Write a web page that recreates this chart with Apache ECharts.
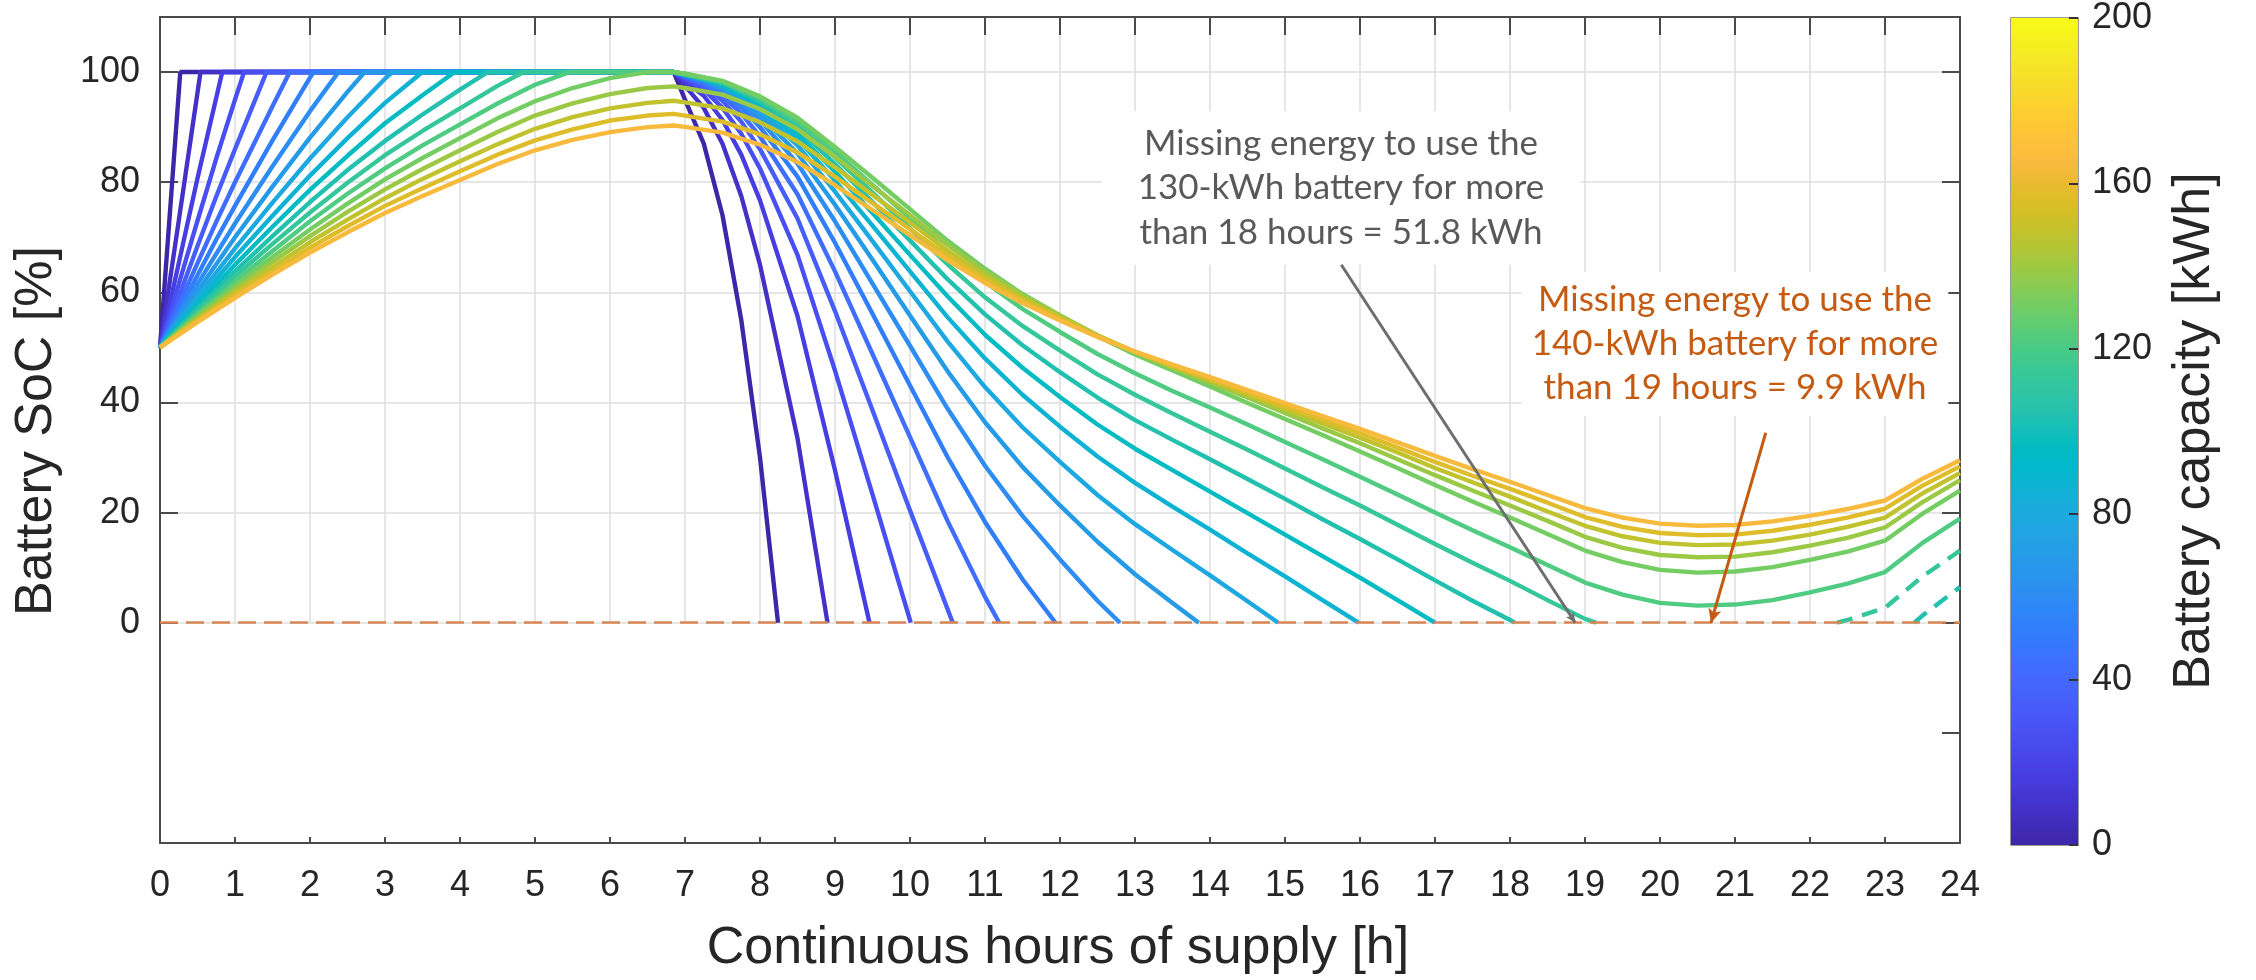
<!DOCTYPE html>
<html>
<head>
<meta charset="utf-8">
<script src="https://cdn.jsdelivr.net/npm/echarts@6/dist/echarts.min.js"></script>
<style>
  html, body { margin: 0; padding: 0; background: #ffffff; }
  #chart { width: 2256px; height: 980px; }
</style>
</head>
<body>
<div id="chart"></div>
<script>
// Battery state of charge [%] over continuous hours of supply, one curve per capacity [kWh]
const capacities = [10, 20, 30, 40, 50, 60, 70, 80, 90, 100, 110, 120, 130, 140, 150, 160, 170, 180, 190, 200];

const soc10 = [[0,50],[0.27,100],[6.85,100],[7,95],[7.25,87],[7.5,74],[7.75,55],[8,30],[8.24,0]];
const soc20 = [[0,50],[0.25,73],[0.54,100],[6.85,100],[7,97.5],[7.25,93.5],[7.5,87],[7.75,77.5],[8,65],[8.5,33.5],[8.9,0]];
const soc30 = [[0,50],[0.25,65.3],[0.5,80.7],[0.83,100],[6.85,100],[7,98.3],[7.25,95.7],[7.5,91.3],[7.75,85],[8,76.7],[8.5,55.7],[9,27.7],[9.46,0]];
const soc40 = [[0,50],[0.25,61.5],[0.5,73],[0.75,84.3],[1,95],[1.12,100],[6.85,100],[7,98.8],[7.25,96.8],[7.5,93.5],[7.75,88.8],[8,82.5],[8.5,66.8],[9,45.8],[9.5,23.3],[10.01,0]];
const soc50 = [[0,50],[0.25,59.2],[0.5,68.4],[0.75,77.4],[1,86],[1.42,100],[6.85,100],[7,99],[7.25,97.4],[7.5,94.8],[7.75,91],[8,86],[8.5,73.4],[9,56.6],[9.5,38.6],[10,20.4],[10.57,0]];
const soc60 = [[0,50],[0.25,57.7],[0.5,65.3],[0.75,72.8],[1,80],[1.5,93.8],[1.73,100],[6.85,100],[7,99.2],[7.25,97.8],[7.5,95.7],[7.75,92.5],[8,88.3],[8.5,77.8],[9,63.8],[9.5,48.8],[10,33.7],[10.5,18.5],[11,4.7],[11.19,0]];
const soc70 = [[0,50],[0.25,56.6],[0.5,63.1],[0.75,69.6],[1,75.7],[1.5,87.6],[2,99],[2.05,100],[6.85,100],[7,99.3],[7.25,98.1],[7.5,96.3],[7.75,93.6],[8,90],[8.5,81],[9,69],[9.5,56.1],[10,43.1],[10.5,30.1],[11,18.3],[11.5,7.9],[11.94,0]];
const soc80 = [[0,50],[0.5,61.5],[1,72.5],[1.5,82.9],[2,92.9],[2.38,100],[6.85,100],[7,99.4],[7.25,98.4],[7.5,96.8],[7.75,94.4],[8,91.3],[8.5,83.4],[9,72.9],[9.5,61.6],[10,50.3],[10.5,38.9],[11,28.5],[11.5,19.4],[12,11.5],[12.5,4],[12.8,0]];
const soc90 = [[0,50],[0.5,60.2],[1,70],[1.5,79.2],[2,88.1],[2.5,96.4],[2.73,100],[6.85,100],[7,99.4],[7.25,98.6],[7.5,97.1],[7.75,95],[8,92.2],[8.5,85.2],[9,75.9],[9.5,65.9],[10,55.8],[10.5,45.7],[11,36.4],[11.5,28.3],[12,21.3],[12.5,14.7],[13,8.8],[13.5,3.6],[13.85,0]];
const soc100 = [[0,50],[0.5,59.2],[1,68],[1.5,76.3],[2,84.3],[2.5,91.8],[3,98.8],[3.1,100],[6.85,100],[7,99.5],[7.25,98.7],[7.5,97.4],[7.75,95.5],[8,93],[8.5,86.7],[9,78.3],[9.5,69.3],[10,60.2],[10.5,51.1],[11,42.8],[11.5,35.5],[12,29.2],[12.5,23.2],[13,17.9],[13.5,13.2],[14,8.6],[14.5,3.9],[14.91,0]];
const soc110 = [[0,50],[0.5,58.4],[1,66.4],[1.5,73.9],[2,81.2],[2.5,88],[3,94.4],[3.5,100],[6.85,100],[7,99.5],[7.25,98.8],[7.5,97.6],[7.75,95.9],[8,93.6],[8.5,87.9],[9,80.3],[9.5,72.1],[10,63.8],[10.5,55.5],[11,48],[11.5,41.4],[12,35.6],[12.5,30.2],[13,25.4],[13.5,21.1],[14,16.9],[14.5,12.6],[15,8.4],[15.5,4.1],[15.98,0]];
const soc120 = [[0,50],[0.5,57.7],[1,65],[1.5,71.9],[2,78.6],[2.5,84.8],[3,90.7],[3.5,95.8],[3.93,100],[6.85,100],[7,99.6],[7.5,97.8],[8,94.2],[8.5,88.9],[9,81.9],[9.5,74.4],[10,66.8],[10.5,59.3],[11,52.3],[11.5,46.3],[12,41],[12.5,36],[13,31.6],[13.5,27.7],[14,23.8],[14.5,19.9],[15,16],[15.5,12.1],[16,8.2],[16.5,4.1],[17,0]];
const soc130 = [[0,50],[0.5,57.1],[1,63.8],[1.5,70.2],[2,76.4],[2.5,82.2],[3,87.5],[3.5,92.3],[4,96.8],[4.37,100],[6.85,100],[7,99.6],[7.5,98],[8,94.6],[8.5,89.8],[9,83.3],[9.5,76.4],[10,69.4],[10.5,62.4],[11,56],[11.5,50.4],[12,45.5],[12.5,40.9],[13,36.8],[13.5,33.2],[14,29.7],[14.5,26.1],[15,22.5],[15.5,18.8],[16,15.2],[16.5,11.5],[17,7.7],[17.5,4],[18,0.5],[18.06,0]];
const soc140 = [[0,50],[0.5,56.6],[1,62.9],[1.5,68.8],[2,74.5],[2.5,79.9],[3,84.9],[3.5,89.3],[4,93.4],[4.5,97.5],[4.85,100],[6.85,100],[7,99.6],[7.5,98.1],[8,95],[8.5,90.5],[9,84.5],[9.5,78.1],[10,71.6],[10.5,65.1],[11,59.1],[11.5,53.9],[12,49.4],[12.5,45.1],[13,41.4],[13.5,38],[14,34.7],[14.5,31.4],[15,28],[15.5,24.6],[16,21.3],[16.5,17.8],[17,14.3],[17.5,10.9],[18,7.6],[18.5,4.1],[19,0.7],[19.15,0]];
const soc150 = [[0,50],[0.5,56.1],[1,62],[1.5,67.5],[2,72.9],[2.5,77.9],[3,82.5],[3.5,86.7],[4,90.5],[4.5,94.3],[5,97.7],[5.46,100],[6.85,100],[7,99.7],[7.5,98.3],[8,95.3],[8.5,91.1],[9,85.5],[9.5,79.5],[10,73.5],[10.5,67.4],[11,61.9],[11.5,57],[12,52.8],[12.5,48.8],[13,45.3],[13.5,42.1],[14,39.1],[14.5,36],[15,32.8],[15.5,29.7],[16,26.5],[16.5,23.3],[17,20],[17.5,16.8],[18,13.7],[18.5,10.5],[19,7.3],[19.5,5.1],[20,3.6],[20.5,3.1],[21,3.3],[21.5,4.1],[22,5.5],[22.5,7.1],[23,9.2],[23.5,14.5],[24,18.9]];
const soc160 = [[0,50],[0.5,55.8],[1,61.3],[1.5,66.4],[2,71.4],[2.5,76.1],[3,80.5],[3.5,84.4],[4,88],[4.5,91.6],[5,94.7],[5.5,97.1],[6,98.9],[6.5,100],[6.85,100],[7,99.7],[7.5,98.4],[8,95.6],[8.5,91.7],[9,86.4],[9.5,80.8],[10,75.1],[10.5,69.4],[11,64.3],[11.5,59.7],[12,55.8],[12.5,52],[13,48.7],[13.5,45.8],[14,42.9],[14.5,39.9],[15,37],[15.5,34.1],[16,31.1],[16.5,28.1],[17,25],[17.5,22],[18,19.1],[18.5,16.1],[19,13.1],[19.5,11],[20,9.6],[20.5,9.1],[21,9.3],[21.5,10.1],[22,11.4],[22.5,12.9],[23,14.9],[23.5,19.8],[24,24]];
const soc170 = [[0,50],[0.5,55.4],[1,60.6],[1.5,65.5],[2,70.2],[2.5,74.6],[3,78.7],[3.5,82.4],[4,85.8],[4.5,89.1],[5,92.1],[5.5,94.3],[6,96],[6.5,97.1],[6.85,97.4],[7,97.1],[7.5,95.9],[8,93.3],[8.5,89.6],[9,84.6],[9.5,79.3],[10,74],[10.5,68.6],[11,63.8],[11.5,59.5],[12,55.8],[12.5,52.2],[13,49.1],[13.5,46.3],[14,43.6],[14.5,40.9],[15,38.1],[15.5,35.3],[16,32.6],[16.5,29.7],[17,26.8],[17.5,24],[18,21.3],[18.5,18.5],[19,15.6],[19.5,13.6],[20,12.3],[20.5,11.9],[21,12],[21.5,12.8],[22,14],[22.5,15.4],[23,17.3],[23.5,21.9],[24,25.9]];
const soc180 = [[0,50],[0.5,55.1],[1,60],[1.5,64.6],[2,69.1],[2.5,73.2],[3,77.1],[3.5,80.6],[4,83.8],[4.5,86.9],[5,89.7],[5.5,91.8],[6,93.4],[6.5,94.4],[6.85,94.8],[7,94.5],[7.5,93.4],[8,90.9],[8.5,87.4],[9,82.7],[9.5,77.7],[10,72.7],[10.5,67.6],[11,63],[11.5,59],[12,55.5],[12.5,52.1],[13,49.2],[13.5,46.6],[14,44],[14.5,41.4],[15,38.8],[15.5,36.2],[16,33.6],[16.5,30.9],[17,28.1],[17.5,25.5],[18,22.9],[18.5,20.2],[19,17.6],[19.5,15.7],[20,14.5],[20.5,14.1],[21,14.2],[21.5,14.9],[22,16],[22.5,17.4],[23,19.1],[23.5,23.5],[24,27.2]];
const soc190 = [[0,50],[0.5,54.8],[1,59.5],[1.5,63.8],[2,68.1],[2.5,72],[3,75.7],[3.5,78.9],[4,82],[4.5,85],[5,87.6],[5.5,89.6],[6,91.2],[6.5,92.1],[6.85,92.4],[7,92.1],[7.5,91],[8,88.7],[8.5,85.4],[9,81],[9.5,76.2],[10,71.5],[10.5,66.7],[11,62.3],[11.5,58.5],[12,55.1],[12.5,52],[13,49.2],[13.5,46.7],[14,44.3],[14.5,41.8],[15,39.3],[15.5,36.9],[16,34.4],[16.5,31.8],[17,29.2],[17.5,26.7],[18,24.3],[18.5,21.8],[19,19.2],[19.5,17.4],[20,16.3],[20.5,15.9],[21,16],[21.5,16.7],[22,17.8],[22.5,19.1],[23,20.7],[23.5,24.9],[24,28.4]];
const soc200 = [[0,50],[0.5,54.6],[1,59],[1.5,63.2],[2,67.2],[2.5,70.9],[3,74.4],[3.5,77.5],[4,80.4],[4.5,83.3],[5,85.8],[5.5,87.7],[6,89.1],[6.5,90],[6.85,90.3],[7,90.05],[7.5,89],[8,86.8],[8.5,83.65],[9,79.45],[9.5,74.95],[10,70.4],[10.5,65.85],[11,61.7],[11.5,58.05],[12,54.9],[12.5,51.9],[13,49.25],[13.5,46.9],[14,44.6],[14.5,42.25],[15,39.9],[15.5,37.55],[16,35.2],[16.5,32.75],[17,30.3],[17.5,27.9],[18,25.6],[18.5,23.2],[19,20.8],[19.5,19.1],[20,18],[20.5,17.6],[21,17.75],[21.5,18.4],[22,19.4],[22.5,20.65],[23,22.2],[23.5,26.15],[24,29.5]];

// Recovery of the 130 and 140 kWh batteries after running empty (dashed)
const socRecovery130 = [[23.39,0],[23.5,1.3],[24,6.5]];
const socRecovery140 = [[22.36,0],[22.5,0.5],[23,2.7],[23.5,8.4],[24,13.1]];

const socCurves = [soc10, soc20, soc30, soc40, soc50, soc60, soc70, soc80, soc90, soc100,
                   soc110, soc120, soc130, soc140, soc150, soc160, soc170, soc180, soc190, soc200];

// Axis ticks
const hourTicks = [0,1,2,3,4,5,6,7,8,9,10,11,12,13,14,15,16,17,18,19,20,21,22,23,24];
const socTicks = [0, 20, 40, 60, 80, 100];
const socRightTicks = [-20, 0, 20, 40, 60, 80, 100];
const capacityTicks = [0, 40, 80, 120, 160, 200];
const capacityRange = [0, 200];

// Annotation arrows: [start hour, start SoC] -> [end hour, end SoC]
const arrow130 = [[15.75, 65], [18.87, 0]];
const arrow140 = [[21.41, 34.5], [20.68, 0]];

// Parula colour map (64 steps)
const parula = [
 [0.2422,0.1504,0.6603],[0.2504,0.1650,0.7076],[0.2578,0.1818,0.7511],[0.2647,0.1978,0.7952],
 [0.2706,0.2147,0.8364],[0.2751,0.2342,0.8710],[0.2783,0.2559,0.8991],[0.2803,0.2782,0.9221],
 [0.2813,0.3006,0.9414],[0.2810,0.3228,0.9579],[0.2795,0.3447,0.9717],[0.2760,0.3667,0.9829],
 [0.2699,0.3892,0.9906],[0.2602,0.4123,0.9952],[0.2440,0.4358,0.9988],[0.2206,0.4603,0.9973],
 [0.1963,0.4847,0.9892],[0.1834,0.5074,0.9798],[0.1786,0.5289,0.9682],[0.1764,0.5499,0.9520],
 [0.1687,0.5703,0.9359],[0.1540,0.5902,0.9218],[0.1460,0.6091,0.9079],[0.1380,0.6276,0.8973],
 [0.1248,0.6459,0.8883],[0.1113,0.6635,0.8763],[0.0952,0.6798,0.8598],[0.0689,0.6948,0.8394],
 [0.0297,0.7082,0.8163],[0.0036,0.7203,0.7917],[0.0067,0.7312,0.7660],[0.0433,0.7411,0.7394],
 [0.0964,0.7500,0.7120],[0.1408,0.7584,0.6842],[0.1717,0.7670,0.6554],[0.1938,0.7758,0.6251],
 [0.2161,0.7843,0.5923],[0.2470,0.7918,0.5567],[0.2906,0.7973,0.5188],[0.3406,0.8008,0.4789],
 [0.3909,0.8029,0.4354],[0.4456,0.8024,0.3909],[0.5044,0.7993,0.3480],[0.5616,0.7942,0.3045],
 [0.6174,0.7876,0.2612],[0.6720,0.7793,0.2227],[0.7242,0.7698,0.1910],[0.7738,0.7598,0.1646],
 [0.8203,0.7498,0.1535],[0.8634,0.7406,0.1596],[0.9035,0.7330,0.1774],[0.9393,0.7288,0.2100],
 [0.9728,0.7298,0.2394],[0.9956,0.7434,0.2371],[0.9970,0.7659,0.2199],[0.9952,0.7893,0.2028],
 [0.9892,0.8136,0.1885],[0.9786,0.8386,0.1766],[0.9676,0.8639,0.1643],[0.9610,0.8890,0.1537],
 [0.9597,0.9135,0.1423],[0.9628,0.9373,0.1265],[0.9691,0.9606,0.1064],[0.9769,0.9839,0.0805]
];

function rgb(c) {
  return 'rgb(' + c.map(v => Math.round(v * 255)).join(',') + ')';
}
function parulaAt(f) {
  const n = parula.length - 1;
  const x = Math.max(0, Math.min(1, f)) * n;
  const i = Math.min(Math.floor(x), n - 1);
  const t = x - i;
  return rgb(parula[i].map((v, k) => v + (parula[i + 1][k] - v) * t));
}
// curves use the lower ~83% of the map, from dark blue to orange
function curveColor(capacity) {
  return parulaAt((capacity - capacities[0]) / 230);
}

const axisFont = '"Liberation Sans", Arial, Helvetica, sans-serif';
const noteFont = 'Lato, "Open Sans", sans-serif';
const axisColor = '#4a4a4a';
const textColor = '#262626';

const chart = echarts.init(document.getElementById('chart'), null, { renderer: 'canvas' });

const series = [];

// zero-SoC reference line
series.push({
  type: 'line', xAxisIndex: 0, yAxisIndex: 0, data: [], silent: true,
  markLine: {
    silent: true, symbol: ['none', 'none'], animation: false,
    label: { show: false },
    lineStyle: { color: '#d68655', width: 2.6, type: [18, 8] },
    data: [{ yAxis: 0 }]
  }
});

capacities.forEach((c, i) => {
  series.push({
    name: 'Battery ' + c + ' kWh',
    type: 'line', xAxisIndex: 0, yAxisIndex: 0,
    data: socCurves[i],
    showSymbol: false, symbol: 'none', smooth: false, silent: true,
    lineStyle: { width: 4.4, color: curveColor(c) },
    itemStyle: { color: curveColor(c) },
    z: 3
  });
});

[[130, socRecovery130], [140, socRecovery140]].forEach(([c, d]) => {
  series.push({
    name: 'Battery ' + c + ' kWh recovery',
    type: 'line', xAxisIndex: 0, yAxisIndex: 0,
    data: d, showSymbol: false, symbol: 'none', silent: true,
    lineStyle: { width: 4.4, color: curveColor(c), type: [16, 10] },
    z: 3
  });
});

// annotation arrows
[[arrow130, '#6e6e6e', [7, 10]], [arrow140, '#c55a11', [10, 14]]].forEach(([a, col, head]) => {
  series.push({
    type: 'line', xAxisIndex: 0, yAxisIndex: 0, data: [], silent: true,
    markLine: {
      silent: true, animation: false,
      symbol: ['none', 'arrow'], symbolSize: head,
      label: { show: false },
      lineStyle: { color: col, width: 3, type: 'solid' },
      data: [[{ coord: a[0] }, { coord: a[1] }]]
    }
  });
});

// colour bar
series.push({
  type: 'bar', xAxisIndex: 3, yAxisIndex: 3,
  data: [capacityRange[1]], barWidth: '100%', silent: true,
  itemStyle: {
    color: {
      type: 'linear', x: 0, y: 1, x2: 0, y2: 0,
      colorStops: parula.map((c, i) => ({ offset: i / (parula.length - 1), color: rgb(c) }))
    }
  }
});

const option = {
  backgroundColor: '#ffffff',
  animation: false,
  grid: [
    { left: 160, right: 296, top: 17, bottom: 137 },               // main axes, SoC -40..110
    { left: 160, right: 296, top: 17, bottom: 980 - 622.73 },      // grid lines above SoC 0
    { left: 2011, right: 178, top: 17, bottom: 135, show: true, borderColor: '#7a7a7a', borderWidth: 1.5, backgroundColor: 'transparent' }
  ],
  xAxis: [
    { gridIndex: 0, type: 'value', min: hourTicks[0], max: hourTicks[hourTicks.length - 1], interval: 1, position: 'bottom',
      axisLine: { show: true, onZero: false, lineStyle: { color: axisColor, width: 2 } },
      axisTick: { show: true, inside: true, length: 6, lineStyle: { color: axisColor, width: 2 } },
      axisLabel: { show: true, fontSize: 36, color: textColor, fontFamily: axisFont, margin: 25 },
      splitLine: { show: false } },
    { gridIndex: 0, type: 'value', min: hourTicks[0], max: hourTicks[hourTicks.length - 1], interval: 1, position: 'top',
      axisLine: { show: true, onZero: false, lineStyle: { color: axisColor, width: 2 } },
      axisTick: { show: true, inside: true, length: 18, lineStyle: { color: axisColor, width: 2 } },
      axisLabel: { show: false }, splitLine: { show: false } },
    { gridIndex: 1, type: 'value', min: hourTicks[0], max: hourTicks[hourTicks.length - 1], interval: 1,
      axisLine: { show: false }, axisTick: { show: false }, axisLabel: { show: false },
      splitLine: { show: true, lineStyle: { color: '#dedede', width: 1.5 } } },
    { gridIndex: 2, type: 'category', data: ['capacity'], show: false }
  ],
  yAxis: [
    { gridIndex: 0, type: 'value', min: -40, max: 110, interval: 20, position: 'left',
      axisLine: { show: true, onZero: false, lineStyle: { color: axisColor, width: 2 } },
      axisTick: { show: true, inside: true, length: 18, customValues: socTicks, lineStyle: { color: axisColor, width: 2 } },
      axisLabel: { show: true, customValues: socTicks, fontSize: 36, color: textColor, fontFamily: axisFont, margin: 20,
                   formatter: v => (v >= 0 && v <= 100 ? String(v) : '') },
      splitLine: { show: false } },
    { gridIndex: 0, type: 'value', min: -40, max: 110, interval: 20, position: 'right',
      axisLine: { show: true, onZero: false, lineStyle: { color: axisColor, width: 2 } },
      axisTick: { show: true, inside: true, length: 18, customValues: socRightTicks, lineStyle: { color: axisColor, width: 2 } },
      axisLabel: { show: false }, splitLine: { show: false } },
    { gridIndex: 1, type: 'value', min: 0, max: 110, interval: 20,
      axisLine: { show: false }, axisTick: { show: false }, axisLabel: { show: false },
      splitLine: { show: true, lineStyle: { color: '#dedede', width: 1.5 } } },
    { gridIndex: 2, type: 'value', min: capacityRange[0], max: capacityRange[1], interval: 40, position: 'right', z: 5,
      axisLine: { show: false },
      axisTick: { show: true, inside: true, length: 9, customValues: capacityTicks, lineStyle: { color: '#333333', width: 2 } },
      axisLabel: { show: true, customValues: capacityTicks, fontSize: 36, color: textColor, fontFamily: axisFont, margin: 14 },
      splitLine: { show: false } }
  ],
  series: series,
  graphic: [
    { type: 'text', x: 37, y: 431, rotation: Math.PI / 2, z: 6,
      style: { text: 'Battery SoC [%]', fontSize: 52, fontFamily: axisFont, fill: textColor, align: 'center', verticalAlign: 'middle' } },
    { type: 'text', x: 1058, y: 949, z: 6,
      style: { text: 'Continuous hours of supply [h]', fontSize: 52, fontFamily: axisFont, fill: textColor, align: 'center', verticalAlign: 'middle' } },
    { type: 'text', x: 2195, y: 431, rotation: Math.PI / 2, z: 6,
      style: { text: 'Battery capacity [kWh]', fontSize: 52, fontFamily: axisFont, fill: textColor, align: 'center', verticalAlign: 'middle' } },
    { type: 'text', x: 1341, y: 188, z: 4,
      style: { text: 'Missing energy to use the\n130-kWh battery for more\nthan 18 hours = 51.8 kWh',
               fontSize: 35, fontFamily: noteFont, fill: '#595959', align: 'center', verticalAlign: 'middle',
               lineHeight: 44.5, backgroundColor: '#ffffff', padding: [10, 36] } },
    { type: 'text', x: 1735, y: 344, z: 4,
      style: { text: 'Missing energy to use the\n140-kWh battery for more\nthan 19 hours = 9.9 kWh',
               fontSize: 35, fontFamily: noteFont, fill: '#c55a11', align: 'center', verticalAlign: 'middle',
               lineHeight: 44, backgroundColor: '#ffffff', padding: [10, 10, 2, 10] } }
  ]
};

chart.setOption(option);
</script>
</body>
</html>
